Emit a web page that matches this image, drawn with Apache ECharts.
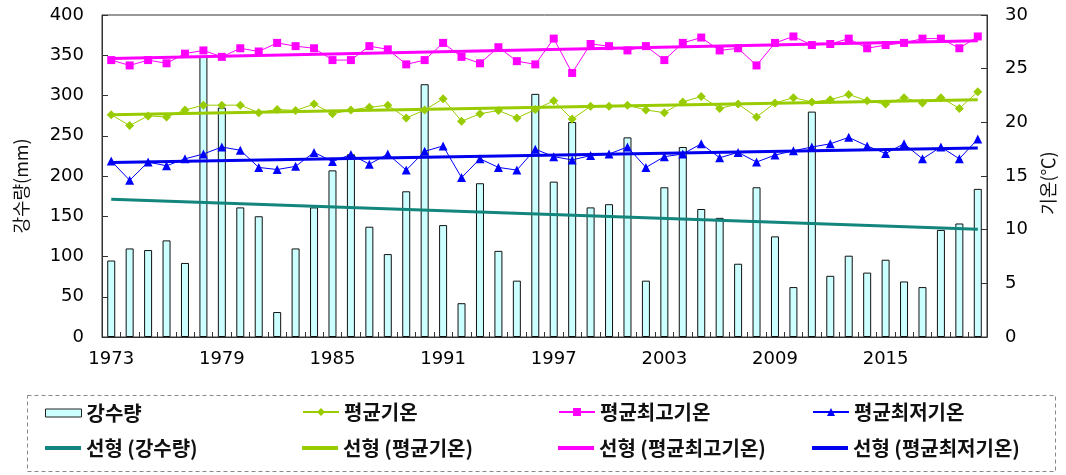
<!DOCTYPE html>
<html>
<head>
<meta charset="utf-8">
<script src="https://cdn.jsdelivr.net/npm/echarts@6/dist/echarts.min.js"></script>
<style>
html,body{margin:0;padding:0;background:#fff;}
#c{width:1066px;height:475px;}
</style>
</head>
<body>
<div id="c"></div>
<script>
// ---- data ----
var years = [];
for (var y = 1973; y <= 2020; y++) years.push(String(y));

var precip = [95,110,108,120,92,348,285,161,150,31,110,161,207,
              227,137,103,181,314,139,42,191,107,70,302,193,267,
              161,165,248,70,186,236,159,148,91,186,125,62,280,
              76,101,80,96,69,62,133,141,184];

var meanT = [20.7,19.7,20.6,20.5,21.15,21.6,21.6,21.6,20.9,21.2,21.1,21.7,20.8,
             21.15,21.4,21.6,20.4,21.15,22.2,20.1,20.8,21.1,20.4,21.2,22.0,20.3,
             21.5,21.5,21.6,21.15,20.9,21.9,22.4,21.3,21.7,20.5,21.8,22.3,21.9,
             22.1,22.6,22.0,21.7,22.3,21.8,22.3,21.3,22.85];

var maxT = [25.8,25.3,25.8,25.5,26.4,26.7,26.1,26.9,26.6,27.4,27.1,26.9,25.8,
            25.8,27.1,26.8,25.4,25.8,27.4,26.1,25.5,27.0,25.7,25.4,27.8,24.6,
            27.3,27.1,26.7,27.1,25.8,27.4,27.9,26.7,26.9,25.3,27.4,28.0,27.2,
            27.3,27.8,26.9,27.2,27.4,27.8,27.8,26.9,28.0];

var minT = [16.4,14.6,16.3,15.95,16.6,17.05,17.7,17.4,15.8,15.6,15.9,17.2,16.35,
            17.0,16.1,17.05,15.55,17.3,17.8,14.85,16.6,15.8,15.55,17.5,16.8,16.5,
            16.9,17.05,17.7,15.8,16.8,17.05,18.0,16.7,17.2,16.3,16.95,17.35,17.7,
            18.0,18.6,17.8,17.1,18.0,16.6,17.7,16.6,18.45];

// linear trend end points (first year, last year)
var precipTrend = [171, 134];
var meanTrend = [20.7, 22.1];
var maxTrend = [25.95, 27.6];
var minTrend = [16.25, 17.6];

var seriesNames = ['강수량','평균기온','평균최고기온','평균최저기온',
                   '선형 (강수량)','선형 (평균기온)','선형 (평균최고기온)','선형 (평균최저기온)'];

function endPoints(ends) {
  var arr = years.map(function(){ return null; });
  arr[0] = ends[0];
  arr[arr.length - 1] = ends[1];
  return arr;
}

var tickFont = {fontFamily: 'DejaVu Sans', fontSize: 18, color: '#000'};
var legendFont = {fontFamily: 'Noto Sans CJK KR', fontSize: 20, fontWeight: 'bold', color: '#111'};

function mkLegend(name, left, top, h, icon, extra) {
  var d = {name: name};
  if (icon) d.icon = icon;
  var l = {
    data: [d], left: left, top: top, padding: 0,
    itemWidth: 36, itemHeight: h, itemGap: 0,
    textStyle: legendFont, selectedMode: false
  };
  if (extra) Object.assign(l, extra);
  return l;
}

var chart = echarts.init(document.getElementById('c'), null, {renderer: 'canvas'});
chart.setOption({
  animation: false,
  backgroundColor: '#fff',
  grid: {left: 102, right: 79, top: 15, bottom: 138, show: true, borderColor: '#333', borderWidth: 1},
  legend: [
    mkLegend(seriesNames[0], 45, 403, 8, 'rect', {itemStyle: {borderWidth: 1, borderColor: '#222', color: '#ccffff'}}),
    mkLegend(seriesNames[1], 302, 402, 10),
    mkLegend(seriesNames[2], 558, 402, 10),
    mkLegend(seriesNames[3], 812, 402, 10),
    mkLegend(seriesNames[4], 45, 438, 4, 'rect'),
    mkLegend(seriesNames[5], 302, 438, 4, 'rect'),
    mkLegend(seriesNames[6], 558, 438, 4, 'rect'),
    mkLegend(seriesNames[7], 812, 438, 4, 'rect')
  ],
  graphic: [{
    type: 'rect', shape: {x: 27.5, y: 395.5, width: 1028, height: 76},
    style: {fill: 'none', stroke: '#888', lineWidth: 1, lineDash: [4, 3]}, silent: true
  }],
  xAxis: {
    type: 'category', data: years, boundaryGap: true,
    axisLine: {lineStyle: {color: '#333', width: 1}},
    axisTick: {show: true, inside: true, interval: 0, length: 5, lineStyle: {color: '#333'}},
    axisLabel: Object.assign({interval: 5, margin: 13}, tickFont),
    splitLine: {show: false}
  },
  yAxis: [{
    type: 'value', min: 0, max: 400, interval: 50, position: 'left',
    name: '강수량(mm)', nameLocation: 'middle', nameGap: 72,
    nameTextStyle: {fontFamily: 'Noto Sans CJK KR', fontSize: 18, color: '#111', padding: [0, 20, 0, 0]},
    axisLine: {show: true, lineStyle: {color: '#333'}},
    axisTick: {show: true, inside: true, length: 6, lineStyle: {color: '#333'}},
    axisLabel: Object.assign({margin: 18}, tickFont),
    splitLine: {show: false}
  }, {
    type: 'value', min: 0, max: 30, interval: 5, position: 'right',
    name: '기온(℃)', nameLocation: 'middle', nameGap: 52,
    nameTextStyle: {fontFamily: 'Noto Sans CJK KR', fontSize: 18, color: '#111', padding: [0, 14, 0, 0]},
    axisLine: {show: true, lineStyle: {color: '#333'}},
    axisTick: {show: true, inside: true, length: 6, lineStyle: {color: '#333'}},
    axisLabel: Object.assign({margin: 18}, tickFont),
    splitLine: {show: false}
  }],
  series: [{
    name: seriesNames[0], type: 'bar', yAxisIndex: 0, data: precip, barWidth: 8,
    itemStyle: {color: '#ccffff', borderColor: '#111', borderWidth: 1}, z: 1
  }, {
    name: seriesNames[1], type: 'line', yAxisIndex: 1, data: meanT,
    symbol: 'diamond', symbolSize: 9,
    lineStyle: {color: '#99cc00', width: 1}, itemStyle: {color: '#99cc00'}, z: 3
  }, {
    name: seriesNames[2], type: 'line', yAxisIndex: 1, data: maxT,
    symbol: 'rect', symbolSize: 8,
    lineStyle: {color: '#ff00ff', width: 1}, itemStyle: {color: '#ff00ff'}, z: 3
  }, {
    name: seriesNames[3], type: 'line', yAxisIndex: 1, data: minT,
    symbol: 'triangle', symbolSize: 9,
    lineStyle: {color: '#0000ff', width: 1}, itemStyle: {color: '#0000ff'}, z: 3
  }, {
    name: seriesNames[4], type: 'line', yAxisIndex: 0, data: endPoints(precipTrend),
    connectNulls: true, symbol: 'none',
    lineStyle: {color: '#12857c', width: 3}, itemStyle: {color: '#12857c'}, z: 4
  }, {
    name: seriesNames[5], type: 'line', yAxisIndex: 1, data: endPoints(meanTrend),
    connectNulls: true, symbol: 'none',
    lineStyle: {color: '#99cc00', width: 3}, itemStyle: {color: '#99cc00'}, z: 4
  }, {
    name: seriesNames[6], type: 'line', yAxisIndex: 1, data: endPoints(maxTrend),
    connectNulls: true, symbol: 'none',
    lineStyle: {color: '#ff00ff', width: 3}, itemStyle: {color: '#ff00ff'}, z: 4
  }, {
    name: seriesNames[7], type: 'line', yAxisIndex: 1, data: endPoints(minTrend),
    connectNulls: true, symbol: 'none',
    lineStyle: {color: '#0000ee', width: 3}, itemStyle: {color: '#0000ee'}, z: 4
  }]
});
</script>
</body>
</html>
